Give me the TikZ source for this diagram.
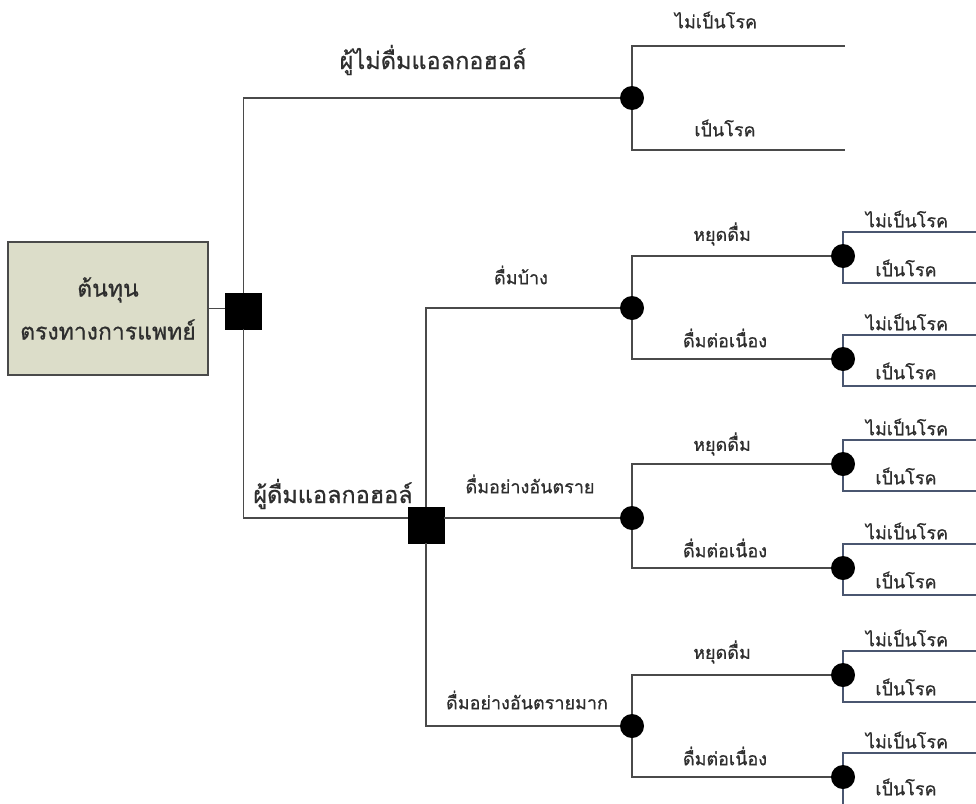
\documentclass[tikz,border=0pt]{standalone}
\usepackage{fontspec}
\newfontfamily\thaifont[Script=Thai,FakeBold=0.7]{Loma}
\definecolor{branchline}{HTML}{4A4A4A}
\definecolor{leafline}{HTML}{4A5670}
\definecolor{boxfill}{HTML}{DCDDC9}
\definecolor{txt}{HTML}{2E2E2E}
\tikzset{
  rootbox/.style={draw=branchline, line width=1.6pt, fill=boxfill, minimum width=200pt,
    minimum height=133pt, align=center, text=txt, font=\thaifont\fontsize{23}{43}\selectfont},
  decision/.style={draw=black, fill=black, minimum size=36pt, inner sep=0pt},
  chance/.style={circle, fill=black, minimum size=24pt, inner sep=0pt},
  branch/.style={draw=branchline, line width=1.6pt},
  leafbranch/.style={draw=leafline, line width=1.2pt},
  biglabel/.style={text=txt, font=\thaifont\fontsize{23.5}{26}\selectfont, inner sep=0pt},
  smalllabel/.style={text=txt, font=\thaifont\fontsize{18}{20}\selectfont, inner sep=0pt}
}
\begin{document}
\begin{tikzpicture}[x=1pt, y=-1pt]
\useasboundingbox (0,0) rectangle (976,803);

% root and first decision
\node[rootbox] (root) at (108,308.5) {ต้นทุน\\ตรงทางการแพทย์};
\node[decision] (sq1) at (243.5,311) {};
\node[chance] (c0) at (632,98) {};
\node[decision] (sq2) at (426,525) {};
\node[chance] (c1) at (632,308) {};
\node[chance] (c2) at (632,518) {};
\node[chance] (c3) at (632,726) {};

% second-level chance nodes
\foreach \n/\y in {s1/256, s2/359, s3/464, s4/568, s5/675, s6/777}
  \node[chance] (\n) at (843,\y) {};

% leaf ends
\coordinate (e0a) at (845,46);
\coordinate (e0b) at (845,150);
\foreach \n/\y in {1/256, 2/359, 3/464, 4/568, 5/675, 6/777}{
  \coordinate (t\n) at (976,\y-24);
  \coordinate (b\n) at (976,\y+27);
}
\coordinate (b6) at (843,806);

% connectors
\draw[branch] (root.east) -- (root.east -| sq1.west);
\draw[branch] (sq1.north) |- (c0.west);
\draw[branch] (sq1.south) |- ([yshift=7pt]sq2.west);
\draw[branch] (c0.north) |- (e0a);
\draw[branch] (c0.south) |- (e0b);
\draw[branch] (c1.west) -| (sq2.north);
\draw[branch] ([yshift=7pt]sq2.east) -- (c2.west);
\draw[branch] (c3.west) -| (sq2.south);
\draw[branch] (c1.north) |- (s1.west);
\draw[branch] (c1.south) |- (s2.west);
\draw[branch] (c2.north) |- (s3.west);
\draw[branch] (c2.south) |- (s4.west);
\draw[branch] (c3.north) |- (s5.west);
\draw[branch] (c3.south) |- (s6.west);
\foreach \n in {1,...,5}{
  \draw[leafbranch] (s\n.north) |- (t\n);
  \draw[leafbranch] (s\n.south) |- (b\n);
}
\draw[leafbranch] (s6.north) |- (t6);
\draw[leafbranch] (s6.south) -- (b6);

% branch labels
\node[biglabel] (lnon) at (433,60) {ผู้ไม่ดื่มแอลกอฮอล์};
\node[biglabel] (ldrk) at (333,494) {ผู้ดื่มแอลกอฮอล์};
\node[smalllabel] (l0a) at (716,20) {ไม่เป็นโรค};
\node[smalllabel] (l0b) at (725,128) {เป็นโรค};
\node[smalllabel] (lsome) at (521,275) {ดื่มบ้าง};
\node[smalllabel] (lharm) at (530,484) {ดื่มอย่างอันตราย};
\node[smalllabel] (lvery) at (527,700) {ดื่มอย่างอันตรายมาก};
\foreach \n/\y in {1/308, 2/518, 3/726}{
  \node[smalllabel] (stop\n) at (722,\y-74) {หยุดดื่ม};
  \node[smalllabel] (cont\n) at (725,\y+30) {ดื่มต่อเนื่อง};
}
\foreach \n/\y in {1/256, 2/359, 3/464, 4/568, 5/675}{
  \node[smalllabel] (nd\n) at (907,\y-37) {ไม่เป็นโรค};
  \node[smalllabel] (d\n) at (906,\y+12) {เป็นโรค};
}
\node[smalllabel] (nd6) at (907,740) {ไม่เป็นโรค};
\node[smalllabel] (d6) at (906,787) {เป็นโรค};
\end{tikzpicture}
\end{document}
